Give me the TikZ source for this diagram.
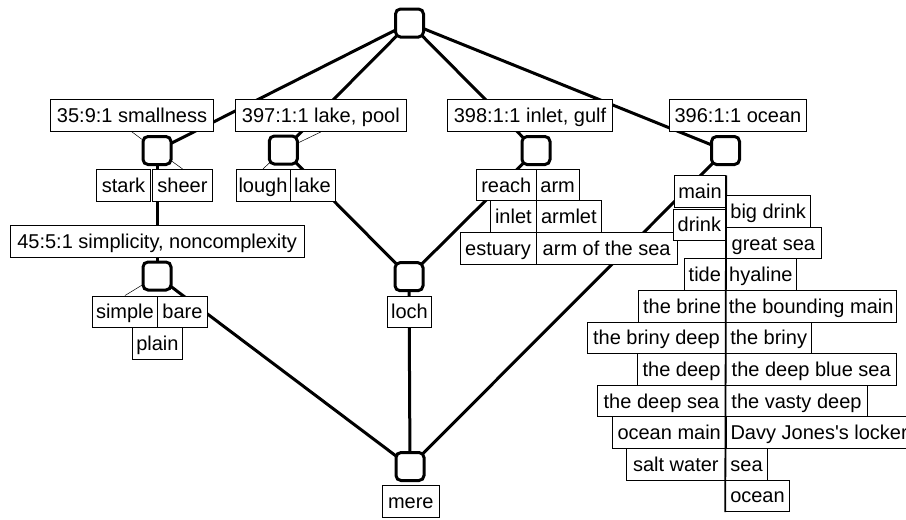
\documentclass[tikz,border=0pt]{standalone}
\usepackage{fontspec}
\setmainfont{Liberation Sans}
\usetikzlibrary{backgrounds}
\tikzset{
  lab/.style={draw=black, line width=0.9pt, fill=white, inner sep=0pt,
    text height=16.4pt, text depth=2.6pt, minimum height=31.6pt,
    font=\fontsize{20}{24}\selectfont},
  attr/.style={lab, minimum height=32.4pt},
  concept/.style={draw=black, line width=3pt, fill=white, rounded corners=5pt,
    minimum size=28pt, inner sep=0pt},
  edge/.style={line width=3pt, black},
  leader/.style={line width=0.5pt, black},
  split/.style={line width=1.8pt, black},
}
\begin{document}
\begin{tikzpicture}[x=1pt, y=-1pt]
\useasboundingbox (0,0) rectangle (906,520);

% concept nodes
\node[concept] (top)  at (409.5,23) {};
\node[concept] (n35)  at (157,150.5) {};
\node[concept] (n397) at (283.3,150) {};
\node[concept] (n398) at (536,150.5) {};
\node[concept] (n396) at (725.5,150.5) {};
\node[concept] (n45)  at (157,276) {};
\node[concept] (nloch) at (409,276.7) {};
\node[concept] (nmere) at (410,466.5) {};

% attribute labels
\node[attr, minimum width=162.6pt] (a35)  at (132,115.3) {35:9:1 smallness};
\node[attr, minimum width=171.7pt] (a397) at (320.85,115.3) {397:1:1 lake, pool};
\node[attr, minimum width=165.4pt] (a398) at (530,115.3) {398:1:1 inlet, gulf};
\node[attr, minimum width=137.4pt] (a396) at (738,115.3) {396:1:1 ocean};
\node[attr, minimum width=294.3pt] (a45)  at (157.15,241.7) {45:5:1 simplicity, noncomplexity};

% object labels
\node[lab, minimum width=53.6pt] (stark) at (123.5,185.15) {stark};
\node[lab, minimum width=59.6pt] (sheer) at (182.5,185.15) {sheer};
\node[lab, minimum width=54pt] (lough) at (263,185.15) {lough};
\node[lab, minimum width=45pt] (lake) at (312.5,185.15) {lake};
\node[lab, minimum width=59.3pt] (reach) at (506.35,185.1) {reach};
\node[lab, minimum width=43.3pt] (arm) at (557.65,185.1) {arm};
\node[lab, minimum width=45.3pt] (inlet) at (513.35,216.7) {inlet};
\node[lab, minimum width=65.7pt] (armlet) at (568.85,216.7) {armlet};
\node[lab, minimum width=76pt] (estuary) at (498,248.3) {estuary};
\node[lab, minimum width=141.3pt] (armsea) at (606.65,248.3) {arm of the sea};
\node[lab, minimum width=65.2pt] (simple) at (124.9,311.8) {simple};
\node[lab, minimum width=49.8pt] (bare) at (182.4,311.8) {bare};
\node[lab, minimum width=49.8pt] (plain) at (157.4,343.4) {plain};
\node[lab, minimum width=44.4pt] (loch) at (409.5,311.8) {loch};
\node[lab, minimum width=57pt] (mere) at (410.8,501.5) {mere};

\node[lab, minimum width=51.4pt] (main) at (700,191.5) {main};
\node[lab, minimum width=52.7pt] (drink) at (699.35,224.75) {drink};
\node[lab, minimum width=41.7pt] (tide) at (704.85,274.7) {tide};
\node[lab, minimum width=87.4pt] (thebrine) at (682,306.3) {the brine};
\node[lab, minimum width=138.4pt] (brinydeep) at (656.5,337.9) {the briny deep};
\node[lab, minimum width=88.4pt] (thedeep) at (681.5,369.5) {the deep};
\node[lab, minimum width=128.4pt] (deepsea) at (661.5,401.1) {the deep sea};
\node[lab, minimum width=113pt] (oceanmain) at (669.2,432.7) {ocean main};
\node[lab, minimum width=99.7pt] (saltwater) at (675.85,464.3) {salt water};

\node[lab, minimum width=85pt] (bigdrink) at (768.2,211.5) {big drink};
\node[lab, minimum width=95.3pt] (greatsea) at (773.35,243.1) {great sea};
\node[lab, minimum width=70.3pt] (hyaline) at (760.85,274.7) {hyaline};
\node[lab, minimum width=171pt] (bounding) at (811.2,306.3) {the bounding main};
\node[lab, minimum width=86pt] (thebriny) at (768.7,337.9) {the briny};
\node[lab, minimum width=171pt] (deepblue) at (811.2,369.5) {the deep blue sea};
\node[lab, minimum width=141.6pt] (vasty) at (796.5,401.1) {the vasty deep};
\node[lab, minimum width=186pt, anchor=west] (davy) at (725.7,432.7) {Davy Jones\textquotesingle s locker};
\node[lab, minimum width=41.6pt] (sea) at (746.5,464.3) {sea};
\node[lab, minimum width=63.6pt] (ocean) at (757.5,495.9) {ocean};

% column split lines
\draw[split] (reach.north east) -- (estuary.south east);
\draw[split] (main.north east) -- (ocean.south west);

\begin{pgfonlayer}{background}
  \fill[white] (0,0) rectangle (906,520);
  \draw[edge] (top.center) -- (n35.center);
  \draw[edge] (top.center) -- (n397.center);
  \draw[edge] (top.center) -- (n398.center);
  \draw[edge] (top.center) -- (n396.center);
  \draw[edge] (n35.center) -- (n45.center);
  \draw[edge] (n397.center) -- (nloch.center);
  \draw[edge] (n398.center) -- (nloch.center);
  \draw[edge] (n45.center) -- (nmere.center);
  \draw[edge] (nloch.center) -- (nmere.center);
  \draw[edge] (n396.center) -- (nmere.center);
  \draw[leader] (a35.south) -- (n35.center);
  \draw[leader] (a397.south) -- (n397.center);
  \draw[leader] (n35.center) -- (sheer.north);
  \draw[leader] (n397.center) -- (lough.north);
  \draw[leader] (n45.center) -- (simple.north);
\end{pgfonlayer}
\end{tikzpicture}
\end{document}
